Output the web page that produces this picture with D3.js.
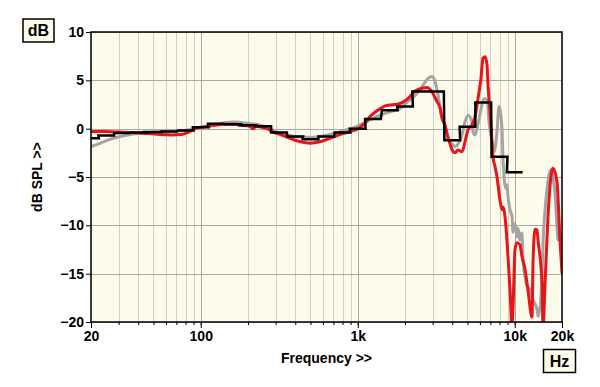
<!DOCTYPE html>
<meta charset="utf-8">
<style>
body { margin: 0; background: #fff; }
text { font-family: 'Liberation Sans', Arial, sans-serif; font-weight: bold; fill: #000; }
.tick text { font-size: 14px; }
.grid line { shape-rendering: crispEdges; }
.curve { fill: none; stroke-linejoin: round; stroke-linecap: round; }
</style>
<body>
<script src="https://cdn.jsdelivr.net/npm/d3@7"></script>
<script>

// frame of the plot
var margin = {top: 32, right: 38, bottom: 65, left: 91},
    width = 600 - margin.left - margin.right,
    height = 387 - margin.top - margin.bottom;

// y ticks and x labels
var yTicks = [10, 5, 0, -5, -10, -15, -20];
var xLabelTicks = [20, 100, 1000, 10000, 20000];
var xLabelText = ["20", "100", "1k", "10k", "20k"];

// 1/3 octave bands (black steps)
var bandCenters = [20, 25, 31.5, 40, 50, 63, 80, 100, 125, 160, 200, 250, 315, 400, 500,
                   630, 800, 1000, 1250, 1600, 2000, 2500, 3150, 4000, 5000, 6300, 8000, 10000];
var bandLevels = [-1.0, -0.7, -0.45, -0.4, -0.35, -0.3, -0.2, 0.15, 0.5, 0.45, 0.35, 0.25, -0.4, -0.8, -1.1,
                  -0.8, -0.4, 0.0, 1.0, 1.9, 2.3, 3.85, 3.85, -1.2, 0.2, 2.7, -2.9, -4.5];

// red curve
var redFreq = [20, 24, 30, 40, 47, 55, 65, 75, 85, 92, 106, 123, 145, 165, 180, 205, 215, 225, 245, 265,
               285, 320, 370, 430, 497, 575, 666, 771, 893, 1004, 1113, 1197, 1300, 1387, 1500, 1606, 1730,
               1860, 2090, 2317, 2606, 2760, 2970, 3197, 3340, 3440, 3598, 3705, 3874, 3990, 4165, 4354,
               4614, 4823, 5040, 5345, 5585, 5835, 6095, 6280, 6470, 6660, 6760, 6955, 7160, 7275, 7485,
               7710, 8055, 8295, 8415, 8790, 9055, 9330, 9615, 9750, 10045, 10335, 10790, 11115, 11615,
               12140, 12880, 13070, 13460, 13870, 14065, 14925, 15140, 15600, 16290, 17270, 17530, 18585,
               19410, 20000];
var redDb = [-0.3, -0.3, -0.35, -0.45, -0.5, -0.6, -0.65, -0.6, -0.3, 0.0, 0.2, 0.35, 0.45, 0.45, 0.35, 0.25, 0.0, 0.25, 0.15, 0.0,
             -0.3, -0.6, -1.0, -1.35, -1.5, -1.35, -1.0, -0.6, -0.3, 0.0, 0.6, 1.25, 1.75, 2.05, 2.35, 2.45, 2.5,
             2.6, 3.1, 3.9, 4.2, 4.25, 3.8, 2.8, 2.2, 1.1, 0.4, -0.5, -1.6, -2.2, -2.5, -2.2,
             -2.4, -1.35, -0.1, 0.4, 1.25, 3.1, 5.2, 7.3, 7.45, 6.6, 4.5, 1.75, -1.35, -3.0, -3.9,
             -5.0, -7.4, -8.4, -8.1, -10.1, -13.2, -16.7, -20.5, -18.5, -12.5, -11.8, -12.0, -13.2, -14.5,
             -16.7, -19.5, -14, -10.4, -10.5, -11.5, -16, -20.5, -16, -9.1, -4.3, -4.1, -5.5,
             -11.5, -14.9];

// grey curve
var greyFreq = [20, 23, 26.4, 30, 37, 47, 64, 80, 92, 115, 140, 165, 200, 240, 276, 300, 345, 400, 500, 600,
                717, 830, 960, 1034, 1197, 1387, 1606, 1860, 2090, 2385, 2606, 2800, 2970, 3105, 3245, 3440,
                3598, 3760, 3990, 4165, 4354, 4614, 4823, 5040, 5345, 5420, 5585, 5835, 6180, 6370, 6660,
                6860, 7160, 7380, 7710, 7935, 8295, 8415, 8790, 8930, 9055, 9330, 9615, 9750, 10045, 10335,
                10500, 10790, 11115, 11290, 11615, 11970, 12505, 13070, 13870, 14065, 14490, 14925, 15140,
                15600, 16040, 16780, 17270, 17530, 18050, 18585, 18870, 19410, 20000];
var greyDb = [-1.85, -1.5, -1.1, -0.85, -0.55, -0.4, -0.3, -0.15, 0.0, 0.35, 0.6, 0.7, 0.55, 0.35, 0.05, -0.3, -0.6, -0.8, -0.9, -0.75,
              -0.45, -0.15, 0.15, 0.4, 0.9, 1.4, 1.75, 2.1, 2.8, 3.65, 4.5, 5.2, 5.4, 4.9, 3.5, 1.1,
              0.3, -1.0, -1.6, -1.85, -1.6, -0.65, 0.7, 1.4, 0.7, -0.3, -0.65, 0.5, 2.45, 3.1, 3.0,
              0.7, -1.35, -2.4, -0.3, 2.3, 0.0, -3.1, -6.2, -5.8, -7.0, -8.4, -9.1, -10.7, -9.8, -11.2,
              -10.3, -11.5, -10.8, -13.6, -15.3, -16.3, -16.6, -17.7, -18.7, -19.4, -18.5, -15.3, -11.9,
              -8.4, -6.3, -4.4, -4.2, -5.0, -6.7, -10.1, -11.5, -10.8, -12.5];

var svg = d3.select("body").append("svg")
    .attr("width", 600)
    .attr("height", 387);

var g = svg.append("g")
    .attr("transform", "translate(" + margin.left + "," + margin.top + ")");

var x = d3.scaleLog().domain([20, 20000]).range([0, width]);
var y = d3.scaleLinear().domain([-20, 10]).range([height, 0]);

// every 1..9 multiple between 20 and 20k
var minorTicks = [];
[10, 100, 1000, 10000].forEach(function(dec) {
  for (var k = 1; k <= 9; k++) {
    var f = dec * k;
    if (f >= 20 && f <= 20000) minorTicks.push(f);
  }
});
minorTicks.push(20000);

// background
g.append("rect")
    .attr("width", width)
    .attr("height", height)
    .attr("fill", "#fdfbea");

// vertical gridlines
g.append("g")
    .attr("class", "grid")
    .selectAll("line")
    .data(minorTicks)
  .enter().append("line")
    .attr("x1", function(d) { return Math.round(x(d)) + 0.5; })
    .attr("x2", function(d) { return Math.round(x(d)) + 0.5; })
    .attr("y1", 0)
    .attr("y2", height)
    .attr("stroke", function(d) { return (d == 100 || d == 1000 || d == 10000) ? "#a8a8a8" : "#d0d0ca"; })
    .attr("stroke-width", function(d) { return (d == 100 || d == 1000 || d == 10000) ? 1.5 : 1.2; });

// horizontal gridlines
g.append("g")
    .attr("class", "grid")
    .selectAll("line")
    .data(yTicks)
  .enter().append("line")
    .attr("x1", 0)
    .attr("x2", width)
    .attr("y1", function(d) { return Math.round(y(d)) + 0.5; })
    .attr("y2", function(d) { return Math.round(y(d)) + 0.5; })
    .attr("stroke", "#a8a8a8")
    .attr("stroke-width", 1.5);

// clip curves to plot
g.append("clipPath").attr("id", "clip")
  .append("rect").attr("width", width).attr("height", height);

var line = d3.line()
    .x(function(d) { return x(d[0]); })
    .y(function(d) { return y(d[1]); })
    .curve(d3.curveMonotoneX);

var curves = g.append("g").attr("clip-path", "url(#clip)");

curves.append("path")
    .datum(d3.zip(greyFreq, greyDb))
    .attr("class", "curve")
    .attr("stroke", "#a4a4a4")
    .attr("stroke-width", 3)
    .attr("d", line);

curves.append("path")
    .datum(d3.zip(redFreq, redDb))
    .attr("class", "curve")
    .attr("stroke", "#e8141a")
    .attr("stroke-width", 3)
    .attr("d", line);

// black steps from band edges
var steps = [];
bandCenters.forEach(function(c, i) {
  var lo = Math.max(20, c / Math.pow(2, 1 / 6)),
      hi = c * Math.pow(2, 1 / 6);
  steps.push([lo, bandLevels[i]]);
  steps.push([hi, bandLevels[i]]);
});

curves.append("path")
    .datum(steps)
    .attr("fill", "none")
    .attr("stroke", "#000")
    .attr("stroke-width", 2.5)
    .attr("stroke-linejoin", "miter")
    .attr("d", d3.line()
        .x(function(d) { return x(d[0]); })
        .y(function(d) { return y(d[1]); }));

// frame
g.append("rect")
    .attr("width", width)
    .attr("height", height)
    .attr("fill", "none")
    .attr("stroke", "#000")
    .attr("stroke-width", 1.5);

// y axis
g.append("g")
    .call(d3.axisLeft(y).tickValues(yTicks).tickSize(5).tickSizeOuter(0).tickPadding(2))
    .call(function(a) { a.select(".domain").remove(); })
    .call(function(a) { a.selectAll(".tick text").attr("font-size", 15); });

// x axis minor ticks
g.append("g")
    .attr("transform", "translate(0," + height + ")")
    .call(d3.axisBottom(x).tickValues(minorTicks).tickSize(3).tickFormat(""))
    .call(function(a) { a.select(".domain").remove(); });

// x axis labels
g.append("g")
    .attr("transform", "translate(0," + height + ")")
    .call(d3.axisBottom(x).tickValues(xLabelTicks).tickSize(6).tickPadding(3)
        .tickFormat(function(d, i) { return xLabelText[i]; }))
    .call(function(a) { a.select(".domain").remove(); })
    .call(function(a) { a.selectAll(".tick text").attr("font-size", 15); });

// axis titles
svg.append("text")
    .attr("x", margin.left + width / 2)
    .attr("y", 363)
    .attr("text-anchor", "middle")
    .attr("font-size", 14)
    .text("Frequency >>");

svg.append("text")
    .attr("transform", "translate(42," + (margin.top + height / 2) + ") rotate(-90)")
    .attr("text-anchor", "middle")
    .attr("font-size", 14)
    .text("dB SPL >>");

// unit boxes
function unitBox(bx, by, w, h, label) {
  svg.append("rect")
      .attr("x", bx).attr("y", by)
      .attr("width", w).attr("height", h)
      .attr("fill", "#fdfbea")
      .attr("stroke", "#000")
      .attr("stroke-width", 1.5);
  svg.append("text")
      .attr("x", bx + w / 2)
      .attr("y", by + h / 2)
      .attr("dy", "0.36em")
      .attr("text-anchor", "middle")
      .attr("font-size", 16)
      .text(label);
}
unitBox(23, 19, 31, 23, "dB");
unitBox(543.5, 349.5, 32, 23, "Hz");

</script>
</body>
